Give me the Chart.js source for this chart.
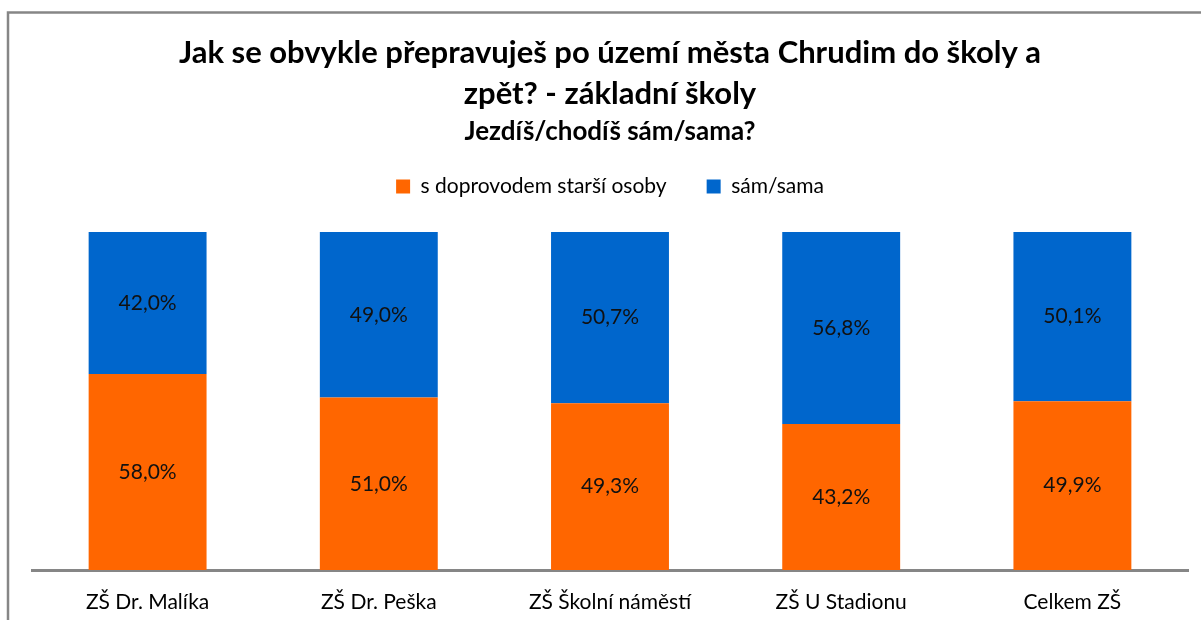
<!DOCTYPE html>
<html>
<head>
<meta charset="utf-8">
<script src="https://cdn.jsdelivr.net/npm/chart.js@4.4.1/dist/chart.umd.min.js"></script>
<style>
html,body{margin:0;padding:0;background:#fff;}
#wrap{position:absolute;left:0;top:0;width:1201px;height:620px;}
</style>
</head>
<body>
<div id="wrap"><canvas id="c" width="1201" height="620"></canvas></div>
<script>
const categories = ['ZŠ Dr. Malíka', 'ZŠ Dr. Peška', 'ZŠ Školní náměstí', 'ZŠ U Stadionu', 'Celkem ZŠ'];
const seriesNames = ['s doprovodem starší osoby', 'sám/sama'];
const doprovod = [58.0, 51.0, 49.3, 43.2, 49.9];
const sam = [42.0, 49.0, 50.7, 56.8, 50.1];
const titleLines = ['Jak se obvykle přepravuješ po území města Chrudim do školy a', 'zpět? - základní školy'];
const subtitleText = 'Jezdíš/chodíš sám/sama?';

const FONT = 'Lato, "Open Sans", sans-serif';

const framePlugin = {
  id: 'frame',
  beforeDraw(chart) {
    const ctx = chart.ctx;
    ctx.save();
    ctx.fillStyle = '#fff';
    ctx.fillRect(0, 0, chart.width, chart.height);
    ctx.strokeStyle = '#868686';
    ctx.lineWidth = 2.5;
    ctx.strokeRect(8, 12.5, 1400, 800);
    ctx.restore();
  }
};

const labelPlugin = {
  id: 'valLabels',
  afterDatasetsDraw(chart) {
    const ctx = chart.ctx;
    ctx.save();
    ctx.font = '21px ' + FONT;
    ctx.fillStyle = '#111';
    ctx.textAlign = 'center';
    ctx.textBaseline = 'middle';
    chart.data.datasets.forEach((ds, di) => {
      const meta = chart.getDatasetMeta(di);
      meta.data.forEach((el, i) => {
        const v = ds.data[i];
        const y = (el.y + el.base) / 2;
        ctx.fillText(v.toFixed(1).replace('.', ',') + '%', el.x, y);
      });
    });
    ctx.restore();
  }
};

const legendSpace = {
  id: 'legendSpace',
  beforeInit(chart) {
    const origFit = chart.legend.fit;
    chart.legend.fit = function () {
      origFit.bind(chart.legend)();
      this.height = 96;
    };
  }
};

new Chart(document.getElementById('c'), {
  type: 'bar',
  data: {
    labels: categories,
    datasets: [
      { label: seriesNames[0], data: doprovod, backgroundColor: '#FF6600', borderWidth: 0 },
      { label: seriesNames[1], data: sam, backgroundColor: '#0066CC', borderWidth: 0 }
    ]
  },
  options: {
    responsive: false,
    animation: false,
    devicePixelRatio: 1,
    layout: { padding: { top: 12, left: 32, right: 13, bottom: 7 } },
    datasets: { bar: { barPercentage: 0.51, categoryPercentage: 1.0 } },
    scales: {
      x: {
        stacked: true,
        grid: { display: false, drawTicks: false },
        border: { display: true, color: '#868686', width: 3 },
        ticks: { color: '#000', font: { family: FONT, size: 21 }, padding: 20, maxRotation: 0 },
        afterFit(scale) { scale.height = 43; }
      },
      y: {
        stacked: true,
        display: false,
        min: 0,
        max: 100
      }
    },
    plugins: {
      title: {
        display: true,
        text: titleLines,
        color: '#000',
        font: { family: FONT, size: 31, weight: 'bold', lineHeight: 41 / 31 },
        padding: { top: 20, bottom: 3 }
      },
      subtitle: {
        display: true,
        text: subtitleText,
        color: '#000',
        font: { family: FONT, size: 26, weight: 'bold', lineHeight: 1 },
        padding: { top: 2, bottom: -9 }
      },
      legend: {
        display: true,
        position: 'top',
        labels: {
          color: '#000',
          font: { family: FONT, size: 21 },
          boxWidth: 14,
          boxHeight: 14,
          padding: 40
        }
      },
      tooltip: { enabled: false }
    }
  },
  plugins: [framePlugin, labelPlugin, legendSpace]
});
</script>
</body>
</html>
